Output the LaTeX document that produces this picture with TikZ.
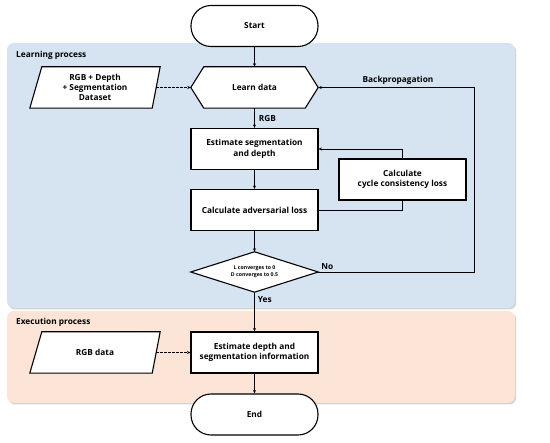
\documentclass[tikz,border=0pt]{standalone}
\usepackage{fontspec}
\setmainfont{Open Sans}
\usetikzlibrary{arrows.meta,shadows,calc}
\definecolor{learnbg}{RGB}{214,227,241}
\definecolor{execbg}{RGB}{252,228,214}
\begin{document}
\begin{tikzpicture}[x=1pt,y=-1pt,
  font=\bfseries\fontsize{8.3}{10.5}\selectfont,
  panel/.style={rounded corners=7pt, drop shadow={opacity=0.35, shadow xshift=1.2pt, shadow yshift=-1.5pt}},
  boxnode/.style={draw, line width=1.1pt, fill=white, minimum width=127pt, minimum height=41pt, align=center, inner sep=1pt},
  term/.style={boxnode, rounded corners=20pt},
  anchorbox/.style={minimum width=127pt, minimum height=41pt, align=center, inner sep=1pt},
  shapeline/.style={draw, line width=1.1pt, fill=white, line join=miter},
  conn/.style={line width=0.9pt, -{Stealth[length=3.5pt,width=3pt]}},
  dconn/.style={conn, dashed, dash pattern=on 2.5pt off 1.5pt},
  lbl/.style={inner sep=1pt}
]
\useasboundingbox (0,0) rectangle (550,443);

% panels
\fill[learnbg, panel] (7,43) rectangle (515,308);
\fill[execbg, panel] (7,311) rectangle (515,403);
\node[lbl, anchor=west] (llabel) at (15,55) {Learning process};
\node[lbl, anchor=west] (elabel) at (15,322) {Execution process};

% start / end
\node[term] (start) at (254.5,26) {Start};
\node[term] (end) at (254.5,414.5) {End};

% learn data hexagon
\node[anchorbox] (learn) at (254.5,87.5) {};
\path[shapeline] (learn.west) -- ($(learn.north west)+(13,0)$) -- ($(learn.north east)+(-13,0)$) -- (learn.east) -- ($(learn.south east)+(-13,0)$) -- ($(learn.south west)+(13,0)$) -- cycle;
\node at (learn.center) {Learn data};

% dataset parallelogram
\node[anchorbox, minimum width=122pt] (data) at (95,87.5) {};
\path[shapeline] ($(data.north west)+(8,0)$) -- ($(data.north east)+(4,0)$) -- ($(data.south east)+(-4,0)$) -- ($(data.south west)+(-4,0)$) -- cycle;
\node[align=center, font=\bfseries\fontsize{8.3}{10}\selectfont] at (data.center) {RGB + Depth\\+ Segmentation\\Dataset};

% estimate segmentation
\node[boxnode] (est) at (254.5,149) {Estimate segmentation\\and depth};
% adversarial
\node[boxnode] (adv) at (254.5,210) {Calculate adversarial loss};
% cycle consistency
\node[boxnode] (cyc) at (402.5,179.5) {Calculate\\cycle consistency loss};

% diamond
\node[anchorbox, minimum height=40pt] (dec) at (254.5,272) {};
\path[shapeline] (dec.west) -- (dec.north) -- (dec.east) -- (dec.south) -- cycle;
\node[align=center, font=\bfseries\fontsize{5.2}{7}\selectfont] at (dec.center) {L converges to 0\\D converges to 0.5};

% execution
\node[boxnode] (exe) at (254.5,352.5) {Estimate depth and\\segmentation information};
\node[anchorbox, minimum width=122pt] (rgbd) at (95,352.5) {};
\path[shapeline] ($(rgbd.north west)+(8,0)$) -- ($(rgbd.north east)+(4,0)$) -- ($(rgbd.south east)+(-4,0)$) -- ($(rgbd.south west)+(-4,0)$) -- cycle;
\node at (rgbd.center) {RGB data};

% connectors
\draw[conn] (start.south) -- (learn.north);
\draw[dconn] ($(data.east)+(0,0)$) -- (learn.west);
\draw[conn] (learn.south) -- node[lbl, anchor=west, xshift=3pt] {RGB} (est.north);
\draw[conn] (est.south) -- (adv.north);
\draw[line width=0.9pt] (adv.east) -| (cyc.south);
\draw[conn] (cyc.north) |- (est.east);
\draw[conn] (adv.south) -- (dec.north);
\coordinate (bpc) at (474,272);
\draw[conn] (dec.east) -- (bpc) |- (learn.east);
\node[lbl, anchor=south west] (nolbl) at ($(dec.east)+(2,-1)$) {No};
\node[lbl] (bplbl) at (398,80) {Backpropagation};
\draw[conn] (dec.south) -- node[lbl, pos=0.2, anchor=west, xshift=2pt] {Yes} (exe.north);
\draw[dconn] (rgbd.east) -- (exe.west);
\draw[conn] (exe.south) -- (end.north);
\end{tikzpicture}
\end{document}
